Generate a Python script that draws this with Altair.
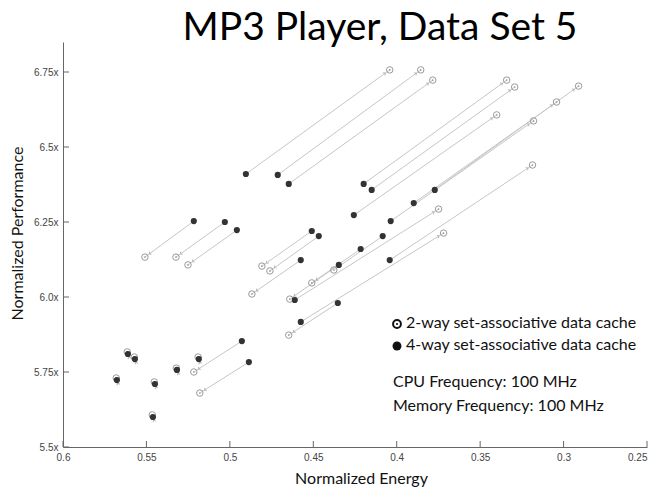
import math
import altair as alt
import pandas as pd

# 4-way set-associative (filled) points
energy_4way = [0.4904, 0.4713, 0.4647, 0.4198, 0.4150, 0.4257, 0.3772, 0.3898, 0.4036, 0.4042,
               0.4611, 0.4575, 0.5216, 0.5030, 0.4958, 0.4509, 0.4467, 0.4575, 0.4347, 0.4216,
               0.4084, 0.4353, 0.4928, 0.4886, 0.5611, 0.5569, 0.5677, 0.5449, 0.5317, 0.5186, 0.5461]
perf_4way = [6.410, 6.407, 6.377, 6.377, 6.357, 6.273, 6.357, 6.313, 6.253, 6.123,
             5.990, 5.917, 6.253, 6.250, 6.223, 6.220, 6.203, 6.123, 6.107, 6.160,
             6.203, 5.980, 5.853, 5.783, 5.810, 5.793, 5.723, 5.710, 5.757, 5.793, 5.600]

# 2-way set-associative (open) points, same order (pairs)
energy_2way = [0.4042, 0.3856, 0.3784, 0.3341, 0.3293, 0.3401, 0.2910, 0.3042, 0.3180, 0.3186,
               0.3749, 0.3719, 0.5509, 0.5323, 0.5251, 0.4808, 0.4760, 0.4868, 0.4641, 0.4509,
               0.4377, 0.4647, 0.5216, 0.5180, 0.5615, 0.5573, 0.5681, 0.5453, 0.5321, 0.5190, 0.5465]
perf_2way = [6.757, 6.757, 6.723, 6.723, 6.700, 6.607, 6.703, 6.650, 6.587, 6.440,
             6.293, 6.213, 6.133, 6.133, 6.107, 6.103, 6.087, 6.010, 5.993, 6.047,
             6.090, 5.873, 5.750, 5.680, 5.817, 5.800, 5.730, 5.717, 5.763, 5.800, 5.607]

x_ticks = [0.6, 0.55, 0.5, 0.45, 0.4, 0.35, 0.3, 0.25]
y_ticks = [5.5, 5.75, 6.0, 6.25, 6.5, 6.75]

title_text = "MP3 Player, Data Set 5"
legend_labels = ["2-way set-associative data cache", "4-way set-associative data cache"]
note_lines = ["CPU Frequency: 100 MHz", "Memory Frequency: 100 MHz"]

W, H = 584, 405
X_DOM = [0.25, 0.6]
Y_DOM = [5.5, 6.85]

pairs = pd.DataFrame({"e4": energy_4way, "p4": perf_4way, "e2": energy_2way, "p2": perf_2way})

# arrowheads placed just before each open circle, pointing along the connecting line
kx = W / (X_DOM[1] - X_DOM[0])
ky = H / (Y_DOM[1] - Y_DOM[0])
ae, ap, aa = [], [], []
for e4, p4, e2, p2 in zip(energy_4way, perf_4way, energy_2way, perf_2way):
    dx = -(e2 - e4) * kx          # screen displacement (x reversed)
    dy = -(p2 - p4) * ky          # screen y grows downward
    L = math.hypot(dx, dy)
    t = 5.5 / L
    ae.append(e2 - (e2 - e4) * t)
    ap.append(p2 - (p2 - p4) * t)
    aa.append(math.degrees(math.atan2(dx, -dy)) % 360)
arrows = pd.DataFrame({"e": ae, "p": ap, "ang": aa})

xt = pd.DataFrame({"v": x_ticks})
yt = pd.DataFrame({"v": y_ticks})
one = pd.DataFrame({"a": [0]})

xscale = alt.Scale(domain=X_DOM, reverse=True, nice=False, zero=False)
yscale = alt.Scale(domain=Y_DOM, nice=False, zero=False)

xaxis = alt.Axis(values=x_ticks, format=".2~f", grid=False, tickSize=0, labelFlush=False,
                 labelAlign={"condition": {"test": "datum.value <= 0.25", "value": "right"},
                             "value": "center"},
                 labelFont="Liberation Sans", labelFontSize=10, labelColor="#444", labelPadding=5,
                 domainColor="#666", domainWidth=1,
                 title="Normalized Energy", titleFont="Lato", titleFontSize=16,
                 titleFontWeight="normal", titleColor="#111", titleBaseline="middle",
                 titleX=298, titleY=31)
yaxis = alt.Axis(values=y_ticks,
                 labelExpr="format(datum.value, (datum.value*4) % 2 == 0 ? '.1f' : '.2f') + 'x'",
                 grid=False, tickSize=0, labelFlush=False,
                 labelFont="Liberation Sans", labelFontSize=10, labelColor="#444", labelPadding=5,
                 domainColor="#666", domainWidth=1,
                 title="Normalized Performance", titleFont="Lato", titleFontSize=16,
                 titleFontWeight="normal", titleColor="#111", titleBaseline="middle",
                 titleAngle=270, titleX=-46, titleY=191)


def X(f):
    return alt.X(f, type="quantitative", scale=xscale, axis=xaxis)


def Y(f):
    return alt.Y(f, type="quantitative", scale=yscale, axis=yaxis)


lines = alt.Chart(pairs).mark_rule(color="#c6c6c6", strokeWidth=1).encode(
    x=X("e4"), y=Y("p4"), x2="e2", y2="p2")

chevron = "M-0.7,0.7L0,0L0.7,0.7"
arrow_marks = alt.Chart(arrows).mark_point(shape=chevron, filled=False, color="#b4b4b4",
                                           strokeWidth=1, size=20, opacity=1).encode(
    x=X("e"), y=Y("p"), angle=alt.Angle("ang:Q", scale=None))

open_pts = alt.Chart(pairs).mark_point(shape="circle", filled=False, color="#9a9a9a",
                                       strokeWidth=1, size=42, opacity=1).encode(
    x=X("e2"), y=Y("p2"))
open_dots = alt.Chart(pairs).mark_point(shape="circle", filled=True, color="#9a9a9a",
                                        size=3, opacity=1).encode(x=X("e2"), y=Y("p2"))
filled_pts = alt.Chart(pairs).mark_point(shape="circle", filled=True, color="#333333",
                                         size=38, opacity=1).encode(x=X("e4"), y=Y("p4"))

xticks = alt.Chart(xt).mark_rule(color="#666", strokeWidth=1).encode(
    x=X("v"), y=alt.value(H), y2=alt.value(H - 6))
yticks = alt.Chart(yt).mark_rule(color="#666", strokeWidth=1).encode(
    y=Y("v"), x=alt.value(0), x2=alt.value(6))

title = alt.Chart(one).mark_text(text=title_text, font="Lato", fontSize=39, color="#000",
                                 align="center", baseline="alphabetic").encode(
    x=alt.value(317), y=alt.value(-2))

leg_open = alt.Chart(one).mark_point(shape="circle", filled=False, color="#111",
                                     strokeWidth=2, size=62, opacity=1).encode(
    x=alt.value(334), y=alt.value(282))
leg_open_dot = alt.Chart(one).mark_point(shape="circle", filled=True, color="#111",
                                         size=5, opacity=1).encode(
    x=alt.value(334), y=alt.value(282))
leg_fill = alt.Chart(one).mark_point(shape="circle", filled=True, color="#111",
                                     size=80, opacity=1).encode(
    x=alt.value(334), y=alt.value(304))
leg_t1 = alt.Chart(one).mark_text(text=legend_labels[0], font="Lato", fontSize=16, color="#111",
                                  align="left", baseline="middle").encode(
    x=alt.value(343), y=alt.value(281))
leg_t2 = alt.Chart(one).mark_text(text=legend_labels[1], font="Lato", fontSize=16, color="#111",
                                  align="left", baseline="middle").encode(
    x=alt.value(343), y=alt.value(303))
note1 = alt.Chart(one).mark_text(text=note_lines[0], font="Lato", fontSize=16, color="#111",
                                 align="left", baseline="middle").encode(
    x=alt.value(330), y=alt.value(340))
note2 = alt.Chart(one).mark_text(text=note_lines[1], font="Lato", fontSize=16, color="#111",
                                 align="left", baseline="middle").encode(
    x=alt.value(330), y=alt.value(364))

chart = alt.layer(
    lines, arrow_marks, open_pts, open_dots, filled_pts, xticks, yticks,
    title, leg_open, leg_open_dot, leg_fill, leg_t1, leg_t2, note1, note2
).properties(
    width=W, height=H,
    autosize=alt.AutoSizeParams(type="none"),
    padding={"left": 63, "top": 42, "right": 8, "bottom": 44},
    background="white"
).configure_view(stroke=None)

chart.save("out.html", embed_options={"renderer": "svg", "actions": False})
